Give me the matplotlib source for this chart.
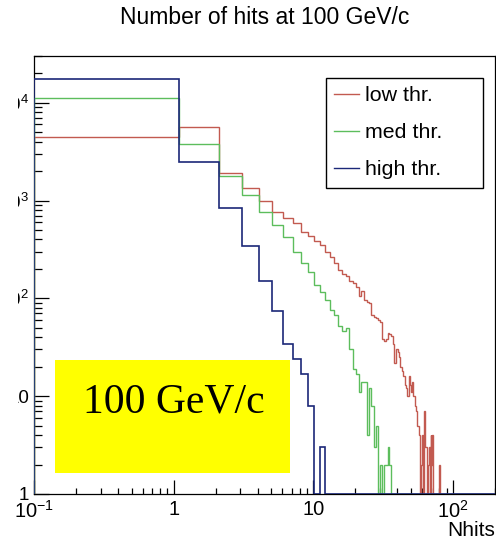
import numpy as np
import matplotlib
matplotlib.use("Agg")
import matplotlib.pyplot as plt
from matplotlib.lines import Line2D
from matplotlib.patches import Rectangle
from matplotlib.ticker import LogLocator, FixedLocator, FixedFormatter, NullFormatter

plt.rcParams['font.family'] = ['Liberation Sans', 'DejaVu Sans']
plt.rcParams['mathtext.fontset'] = 'custom'
plt.rcParams['mathtext.rm'] = 'Liberation Sans'
plt.rcParams['mathtext.it'] = 'Liberation Sans:italic'
plt.rcParams['mathtext.bf'] = 'Liberation Sans:bold'

# ---------------- data ----------------
title = "Number of hits at 100 GeV/c"
x_label = "Nhits"
box_text = "100 GeV/c"
series_names = ["low thr.", "med thr.", "high thr."]
series_colors = ["#c25a50", "#5cbd5c", "#1b2878"]

bin_low_edge = 0.1
bin_width = 1.0
n_bins = 200

low_thr = [4500, 5600, 1930, 1355, 1000, 771, 659, 586, 481, 435,
           389, 352, 300, 265, 229, 195, 178, 170, 150, 143,
           130, 105, 118, 97, 92, 89, 68, 65, 63, 60,
           57, 38, 37, 38, 44, 43, 41, 34, 22, 30,
           28, 25, 20, 18, 16, 13, 12, 10, 16, 13,
           11, 14, 10, 8, 7, 5, 5, 4, 0, 2,
           4, 0, 7, 3, 3, 0, 2, 3, 0, 4,
           2, 4, 0, 0, 0, 0, 0, 0, 0, 2]
med_thr = [11100, 3810, 1780, 1140, 770, 560, 425, 300, 230, 185,
           137, 115, 97, 76, 68, 52, 46, 50, 30, 19,
           17, 11, 14, 14, 4, 12, 8, 3, 5, 0,
           2, 0, 2, 2, 3, 2]
high_thr = [17300, 2460, 830, 344, 151, 74, 34, 24, 17, 8,
            0, 3]

x_ticks = [0.1, 1, 10, 100]
x_tick_labels = [r"$10^{-1}$", "1", "10", r"$10^{2}$"]
y_ticks = [1, 10, 100, 1000, 10000]
y_tick_labels = ["1", "10", r"$10^{2}$", r"$10^{3}$", r"$10^{4}$"]

x_range = (0.1, 200)
y_range = (1, 3.0e4)

# ---------------- figure ----------------
W, H = 496, 540
fig = plt.figure(figsize=(W / 100, H / 100), dpi=100)
fig.patch.set_facecolor("white")

ax_l, ax_r, ax_t, ax_b = 34, 495, 56, 494
ax = fig.add_axes([ax_l / W, 1 - ax_b / H, (ax_r - ax_l) / W, (ax_b - ax_t) / H])

edges = bin_low_edge + bin_width * np.arange(n_bins + 1)


def full(vals):
    v = np.zeros(n_bins)
    v[:len(vals)] = vals
    # empty bins are drawn on the frame bottom, as ROOT does
    return np.maximum(v, y_range[0])


for vals, col, lw in zip([low_thr, med_thr, high_thr], series_colors, [1.0, 1.0, 1.2]):
    ax.stairs(full(vals), edges, baseline=y_range[0], color=col, lw=lw, zorder=3)

ax.set_xscale("log")
ax.set_yscale("log")
ax.set_xlim(*x_range)
ax.set_ylim(*y_range)

ax.xaxis.set_major_locator(FixedLocator(x_ticks))
ax.xaxis.set_major_formatter(FixedFormatter(x_tick_labels))
ax.xaxis.set_minor_locator(LogLocator(base=10, subs=np.arange(2, 10)))
ax.xaxis.set_minor_formatter(NullFormatter())
ax.yaxis.set_major_locator(FixedLocator(y_ticks))
ax.yaxis.set_major_formatter(FixedFormatter(y_tick_labels))
ax.yaxis.set_minor_locator(LogLocator(base=10, subs=np.arange(2, 10)))
ax.yaxis.set_minor_formatter(NullFormatter())

ax.tick_params(axis="x", which="major", direction="in", length=10, width=0.9, labelsize=14.5, pad=4.5)
ax.tick_params(axis="x", which="minor", direction="in", length=4.5, width=0.9)
ax.tick_params(axis="y", which="major", direction="in", length=10.8, width=0.9, labelsize=13.5, pad=3.5)
ax.tick_params(axis="y", which="minor", direction="in", length=6, width=0.9)
for s in ax.spines.values():
    s.set_linewidth(0.9)

ax.set_xlabel(x_label, fontsize=15, ha="right", va="bottom")
ax.xaxis.set_label_coords(1.0, -(540 - ax_b) / (ax_b - ax_t))

# legend
handles = [Line2D([], [], color=c, lw=1.0) for c in series_colors]
leg = ax.legend(handles, series_names, loc="upper left",
                bbox_to_anchor=(0.633, 0.699, 0.341, 0.251), mode="expand",
                borderaxespad=0, fontsize=15.4, handlelength=1.17, handletextpad=0.28,
                borderpad=0.4, labelspacing=0.84, fancybox=False, framealpha=1,
                edgecolor="black")
leg.get_frame().set_linewidth(1.0)

# yellow label box
ax.add_patch(Rectangle((0.0456, 0.048), 0.509, 0.258, transform=ax.transAxes,
                       facecolor="#ffff00", edgecolor="none", zorder=5))
ax.text(0.106, 0.187, box_text, transform=ax.transAxes, ha="left", va="baseline",
        fontsize=30, family="Liberation Serif", color="black", zorder=6)

fig.text(265 / W, 1 - 17 / H, title, ha="center", va="center", fontsize=16.5)

# the reference is cropped on the left: blank strip over part of the y labels
fig.patches.append(Rectangle((0, 1 - 482 / H), 18 / W, (482 - 40) / H,
                             transform=fig.transFigure, facecolor="white",
                             edgecolor="none", zorder=10))

fig.savefig("out.png", dpi=100)
